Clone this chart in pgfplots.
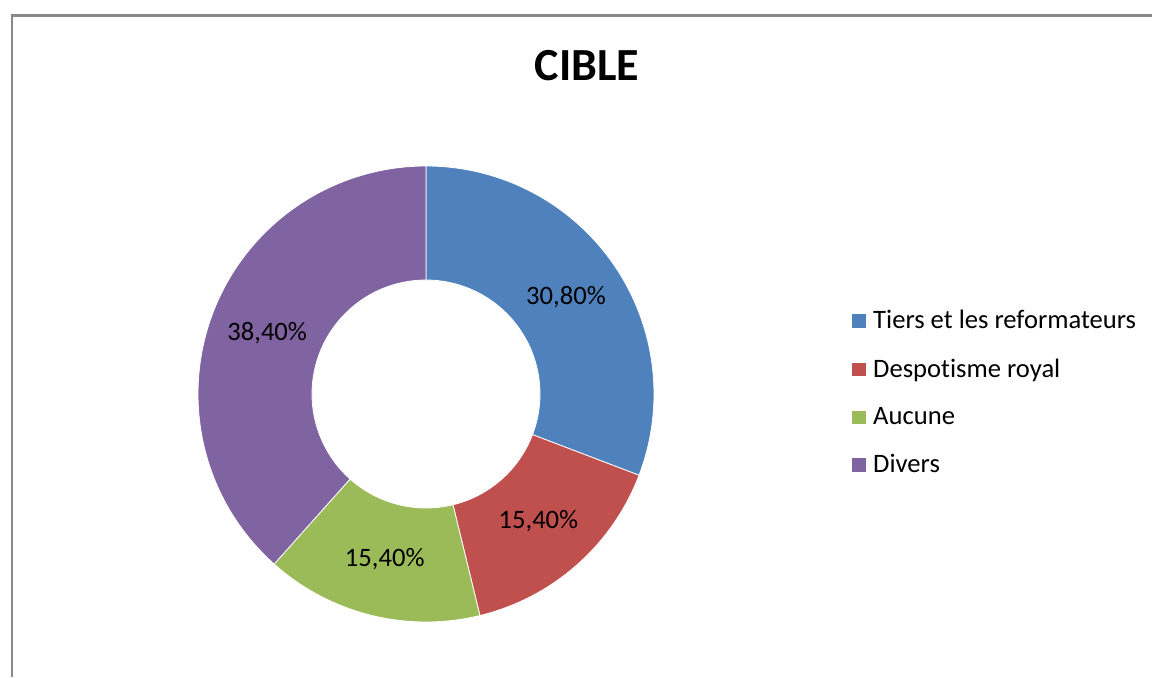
\documentclass[border=0pt]{standalone}
\usepackage{fontspec}
\setmainfont{Carlito}[Ligatures={NoCommon}]
\usepackage{pgfplots}
\usepackage{pgfplotstable}
\pgfplotsset{compat=1.18}

\definecolor{cBlue}  {RGB}{ 79,129,189}
\definecolor{cRed}   {RGB}{192, 80, 77}
\definecolor{cGreen} {RGB}{155,187, 89}
\definecolor{cPurple}{RGB}{128,100,162}
\definecolor{frameGray}{RGB}{137,137,137}

% share of each target (%), clockwise from 12 o'clock
\pgfplotstableread{
label value
Tiers 30.8
Despotisme 15.4
Aucune 15.4
Divers 38.4
}\cible

\begin{document}
\begin{tikzpicture}
\begin{axis}[
  name=ax,
  scale only axis,width=576pt,height=338.5pt,
  xmin=0,xmax=1152,ymin=0,ymax=677,
  hide axis,clip=false,
  /pgf/number format/assume math mode=true,
  legend image code/.code={\fill[#1] (0pt,-3.3pt) rectangle (6.6pt,3.3pt);
    \path (0pt,0pt) -- (8.4pt,0pt);},
  legend style={at={(axis cs:846,284)},anchor=west,draw=none,fill=none,
    font=\fontsize{13.3}{16}\selectfont,row sep=9.5pt,
    cells={anchor=west}},
  legend cell align=left
]
\addlegendimage{fill=cBlue,draw=none}
\addlegendentry{Tiers et les reformateurs}
\addlegendimage{fill=cRed,draw=none}
\addlegendentry{Despotisme royal}
\addlegendimage{fill=cGreen,draw=none}
\addlegendentry{Aucune}
\addlegendimage{fill=cPurple,draw=none}
\addlegendentry{Divers}

% frame of the chart area (cut off at right and bottom)
\draw[frameGray,line width=1.1pt] (axis cs:12,0) -- (axis cs:12,661.5) -- (axis cs:1152,661.5);

\node[anchor=base,font=\fontsize{23}{27}\selectfont\bfseries] at (axis cs:587,597) {CIBLE};

\pgfplotsextra{
  \gdef\acc{90}
  \foreach \i/\col in {0/cBlue,1/cRed,2/cGreen,3/cPurple}{
    \pgfplotstablegetelem{\i}{value}\of\cible
    \let\v\pgfplotsretval
    \pgfmathsetmacro\s{\acc}
    \pgfmathsetmacro\e{\acc-3.6*\v}
    \pgfmathsetmacro\m{(\s+\e)/2}
    \fill[\col,draw=white,line width=0.4pt] (axis cs:426,283) ++(\s:114pt)
      arc[start angle=\s,end angle=\e,radius=114pt] -- ++(\e:-57pt)
      arc[start angle=\e,end angle=\s,radius=57pt] -- cycle;
    \path (axis cs:426,283) ++(\m:85pt) node[font=\fontsize{13.3}{16}\selectfont]
      {\pgfmathprintnumber[fixed,fixed zerofill,precision=2,use comma,assume math mode=true]{\v}\%};
    \xdef\acc{\e}
  }
}
\end{axis}
\pgfresetboundingbox
\path (ax.south west) rectangle (ax.north east);
\end{tikzpicture}
\end{document}
